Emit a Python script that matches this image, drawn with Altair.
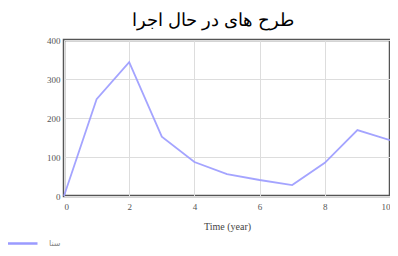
import altair as alt
import pandas as pd

years = [0, 1, 2, 3, 4, 5, 6, 7, 8, 9, 10]
values = [0, 248, 343, 152, 87, 56, 41, 28, 85, 169, 143]
series_name = "سنا"
title_text = "طرح های در حال اجرا"

df = pd.DataFrame({"year": years, "value": values, "series": [series_name] * len(years)})

chart = alt.Chart(df).mark_line(strokeWidth=1.8, opacity=0.9).encode(
    x=alt.X("year:Q", scale=alt.Scale(domain=[0, 10], nice=False),
            axis=alt.Axis(title="Time (year)", values=[0, 2, 4, 6, 8, 10], grid=True,
                          gridColor="#dddddd", domain=False, tickSize=0, labelPadding=6,
                          labelFont="Liberation Serif", labelFontSize=9, labelColor="#555555",
                          titleFont="Liberation Serif", titleFontSize=10, titleFontWeight="normal",
                          titleColor="#444444", titlePadding=10)),
    y=alt.Y("value:Q", scale=alt.Scale(domain=[0, 400], nice=False),
            axis=alt.Axis(title=None, values=[0, 100, 200, 300, 400], grid=True,
                          gridColor="#dddddd", domain=False, tickSize=0, labelPadding=4,
                          labelFont="Liberation Serif", labelFontSize=9, labelColor="#555555")),
    color=alt.Color("series:N", scale=alt.Scale(range=["#9a9aff"]),
                    legend=alt.Legend(title=None, orient="none", legendX=-58, legendY=187,
                                      padding=0, offset=0,
                                      symbolType="stroke", symbolSize=900, symbolStrokeWidth=2.5,
                                      symbolStrokeColor="#7070ff", symbolOpacity=1,
                                      labelFont="DejaVu Sans", labelFontSize=8, labelColor="#888888",
                                      labelOffset=10)),
).properties(
    width=326, height=156,
    title=alt.TitleParams(title_text, font="Liberation Sans", fontSize=18, fontWeight="normal",
                          color="#000000", anchor="middle", dx=-14, offset=6),
    autosize=alt.AutoSizeParams(type="none"),
    padding={"left": 56, "top": 32, "right": 0, "bottom": 52},
).configure_view(stroke="#555555", strokeWidth=2.5)

chart.save("out.html", embed_options={"renderer": "svg", "actions": False})
